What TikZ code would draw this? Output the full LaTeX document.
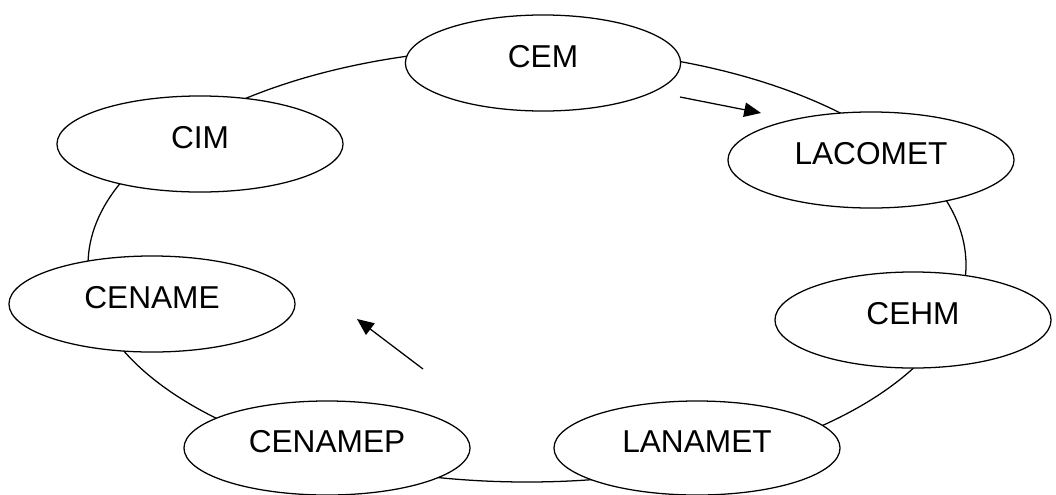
\documentclass[tikz,border=0pt]{standalone}
\usepackage{fontspec}
\setmainfont{Liberation Sans}
\usetikzlibrary{shapes.geometric,arrows.meta}
\begin{document}
\begin{tikzpicture}[x=0.025cm, y=-0.025cm, line width=0.9pt,
	unit/.style={ellipse, draw, fill=white, minimum width=7.15cm, minimum height=2.4cm, inner sep=0pt,
		font=\fontsize{22.5}{27}\selectfont, text height=0.56cm, text depth=0.36cm},
	flow/.style={-{Triangle[length=0.42cm, width=0.36cm]}}]
	\useasboundingbox (0, 0) rectangle (1056, 494);
	\draw (527, 265) ellipse [x radius=439, y radius=217];
	\node[unit, minimum width=6.88cm] (cem) at (543, 63) {CEM};
	\node[unit] (lacomet) at (871, 160) {LACOMET};
	\node[unit, minimum width=6.9cm] (cehm) at (913, 320) {CEHM};
	\node[unit, minimum height=2.35cm] (lanamet) at (697, 448) {LANAMET};
	\node[unit, minimum height=2.35cm] (cenamep) at (327, 448) {CENAMEP};
	\node[unit] (cename) at (152, 304) {CENAME};
	\node[unit] (cim) at (200, 144) {CIM};
	\coordinate (a) at (680, 97);
	\coordinate (b) at (761, 113);
	\coordinate (c) at (423, 369);
	\coordinate (d) at (357, 319);
	\draw[flow] (a) -- (b);
	\draw[flow] (c) -- (d);
\end{tikzpicture}
\end{document}
